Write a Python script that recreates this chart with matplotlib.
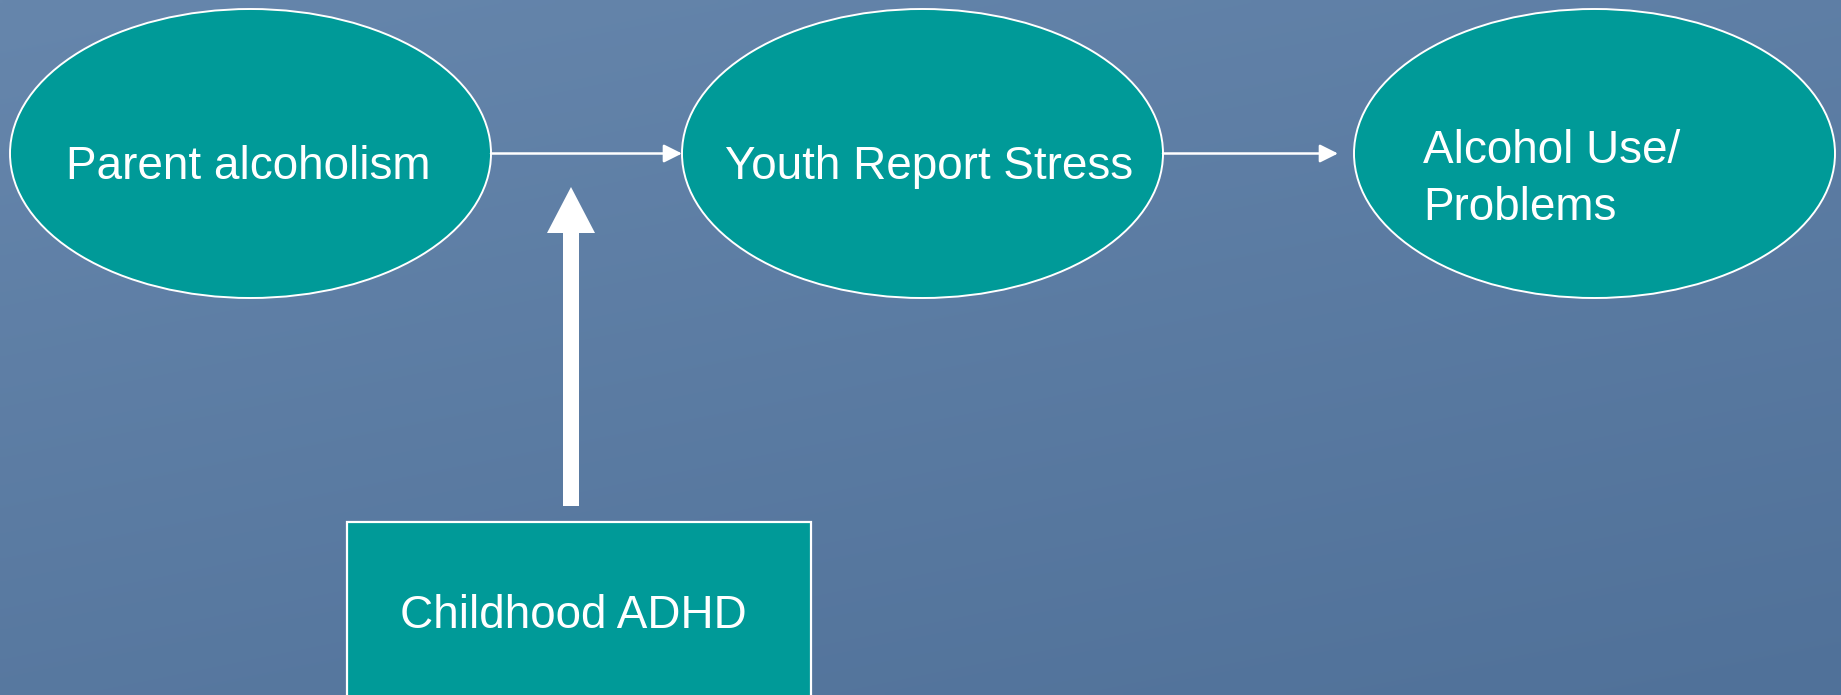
import numpy as np
import matplotlib
matplotlib.use("Agg")
import matplotlib.pyplot as plt
from matplotlib.patches import Ellipse, Rectangle, FancyArrow

# ---- diagram content ----
node_labels = ["Parent alcoholism", "Youth Report Stress", "Alcohol Use/\nProblems"]
node_cx = [250.5, 922.5, 1594.5]
node_cy = [153.5, 153.5, 153.5]
node_w = 481
node_h = 289
moderator_label = "Childhood ADHD"
mod_box = (347, 522, 464, 200)  # x, y, w, h (pixel coordinates)

TEAL = "#009a98"
W, H = 1841, 695

fig = plt.figure(figsize=(W / 100, H / 100), dpi=100)
ax = fig.add_axes([0, 0, 1, 1])
ax.set_xlim(0, W)
ax.set_ylim(H, 0)
ax.axis("off")

# background gradient (lighter top-left, darker bottom-right)
yy, xx = np.mgrid[0:1:120j, 0:1:300j]
t = 0.65 * yy + 0.35 * xx
top = np.array([102, 134, 172]) / 255
bot = np.array([80, 113, 153]) / 255
img = top[None, None, :] * (1 - t[..., None]) + bot[None, None, :] * t[..., None]
ax.imshow(img, extent=[0, W, H, 0], aspect="auto", zorder=0, interpolation="bilinear")

font = "Liberation Sans"

# ellipses
for lab, cx, cy in zip(node_labels, node_cx, node_cy):
    ax.add_patch(Ellipse((cx, cy), node_w, node_h, facecolor=TEAL,
                         edgecolor="white", lw=1.4, zorder=2))

# labels
ax.text(node_cx[0] - 2, 179, node_labels[0], color="white", fontsize=33,
        family=font, ha="center", va="baseline", zorder=3)
ax.text(node_cx[1] + 7, 179, node_labels[1], color="white", fontsize=33,
        family=font, ha="center", va="baseline", zorder=3)
lines = node_labels[2].split("\n")
ax.text(1423, 163, lines[0], color="white", fontsize=33, family=font,
        ha="left", va="baseline", zorder=3)
ax.text(1423, 220, lines[1], color="white", fontsize=33, family=font,
        ha="left", va="baseline", zorder=3)

# thin horizontal arrows between nodes
for i in range(2):
    x0 = node_cx[i] + node_w / 2
    x1 = node_cx[i + 1] - node_w / 2 - (0 if i == 0 else 16)
    ax.annotate("", xy=(x1, node_cy[i]), xytext=(x0, node_cy[i]),
                arrowprops=dict(arrowstyle="-|>,head_length=1.1,head_width=0.55",
                                color="white", lw=1.8, shrinkA=0, shrinkB=0),
                zorder=3)

# moderator box
bx, by, bw, bh = mod_box
ax.add_patch(Rectangle((bx, by), bw, bh, facecolor=TEAL, edgecolor="white",
                       lw=1.6, zorder=2))
ax.text(bx + bw / 2 - 6, 628, moderator_label, color="white", fontsize=33,
        family=font, ha="center", va="baseline", zorder=3)

# thick moderator arrow
ax.add_patch(FancyArrow(571, 506, 0, -(506 - 187), width=16, head_width=48,
                        head_length=46, length_includes_head=True,
                        facecolor="white", edgecolor="none", zorder=3))

fig.savefig("out.png", dpi=100)
